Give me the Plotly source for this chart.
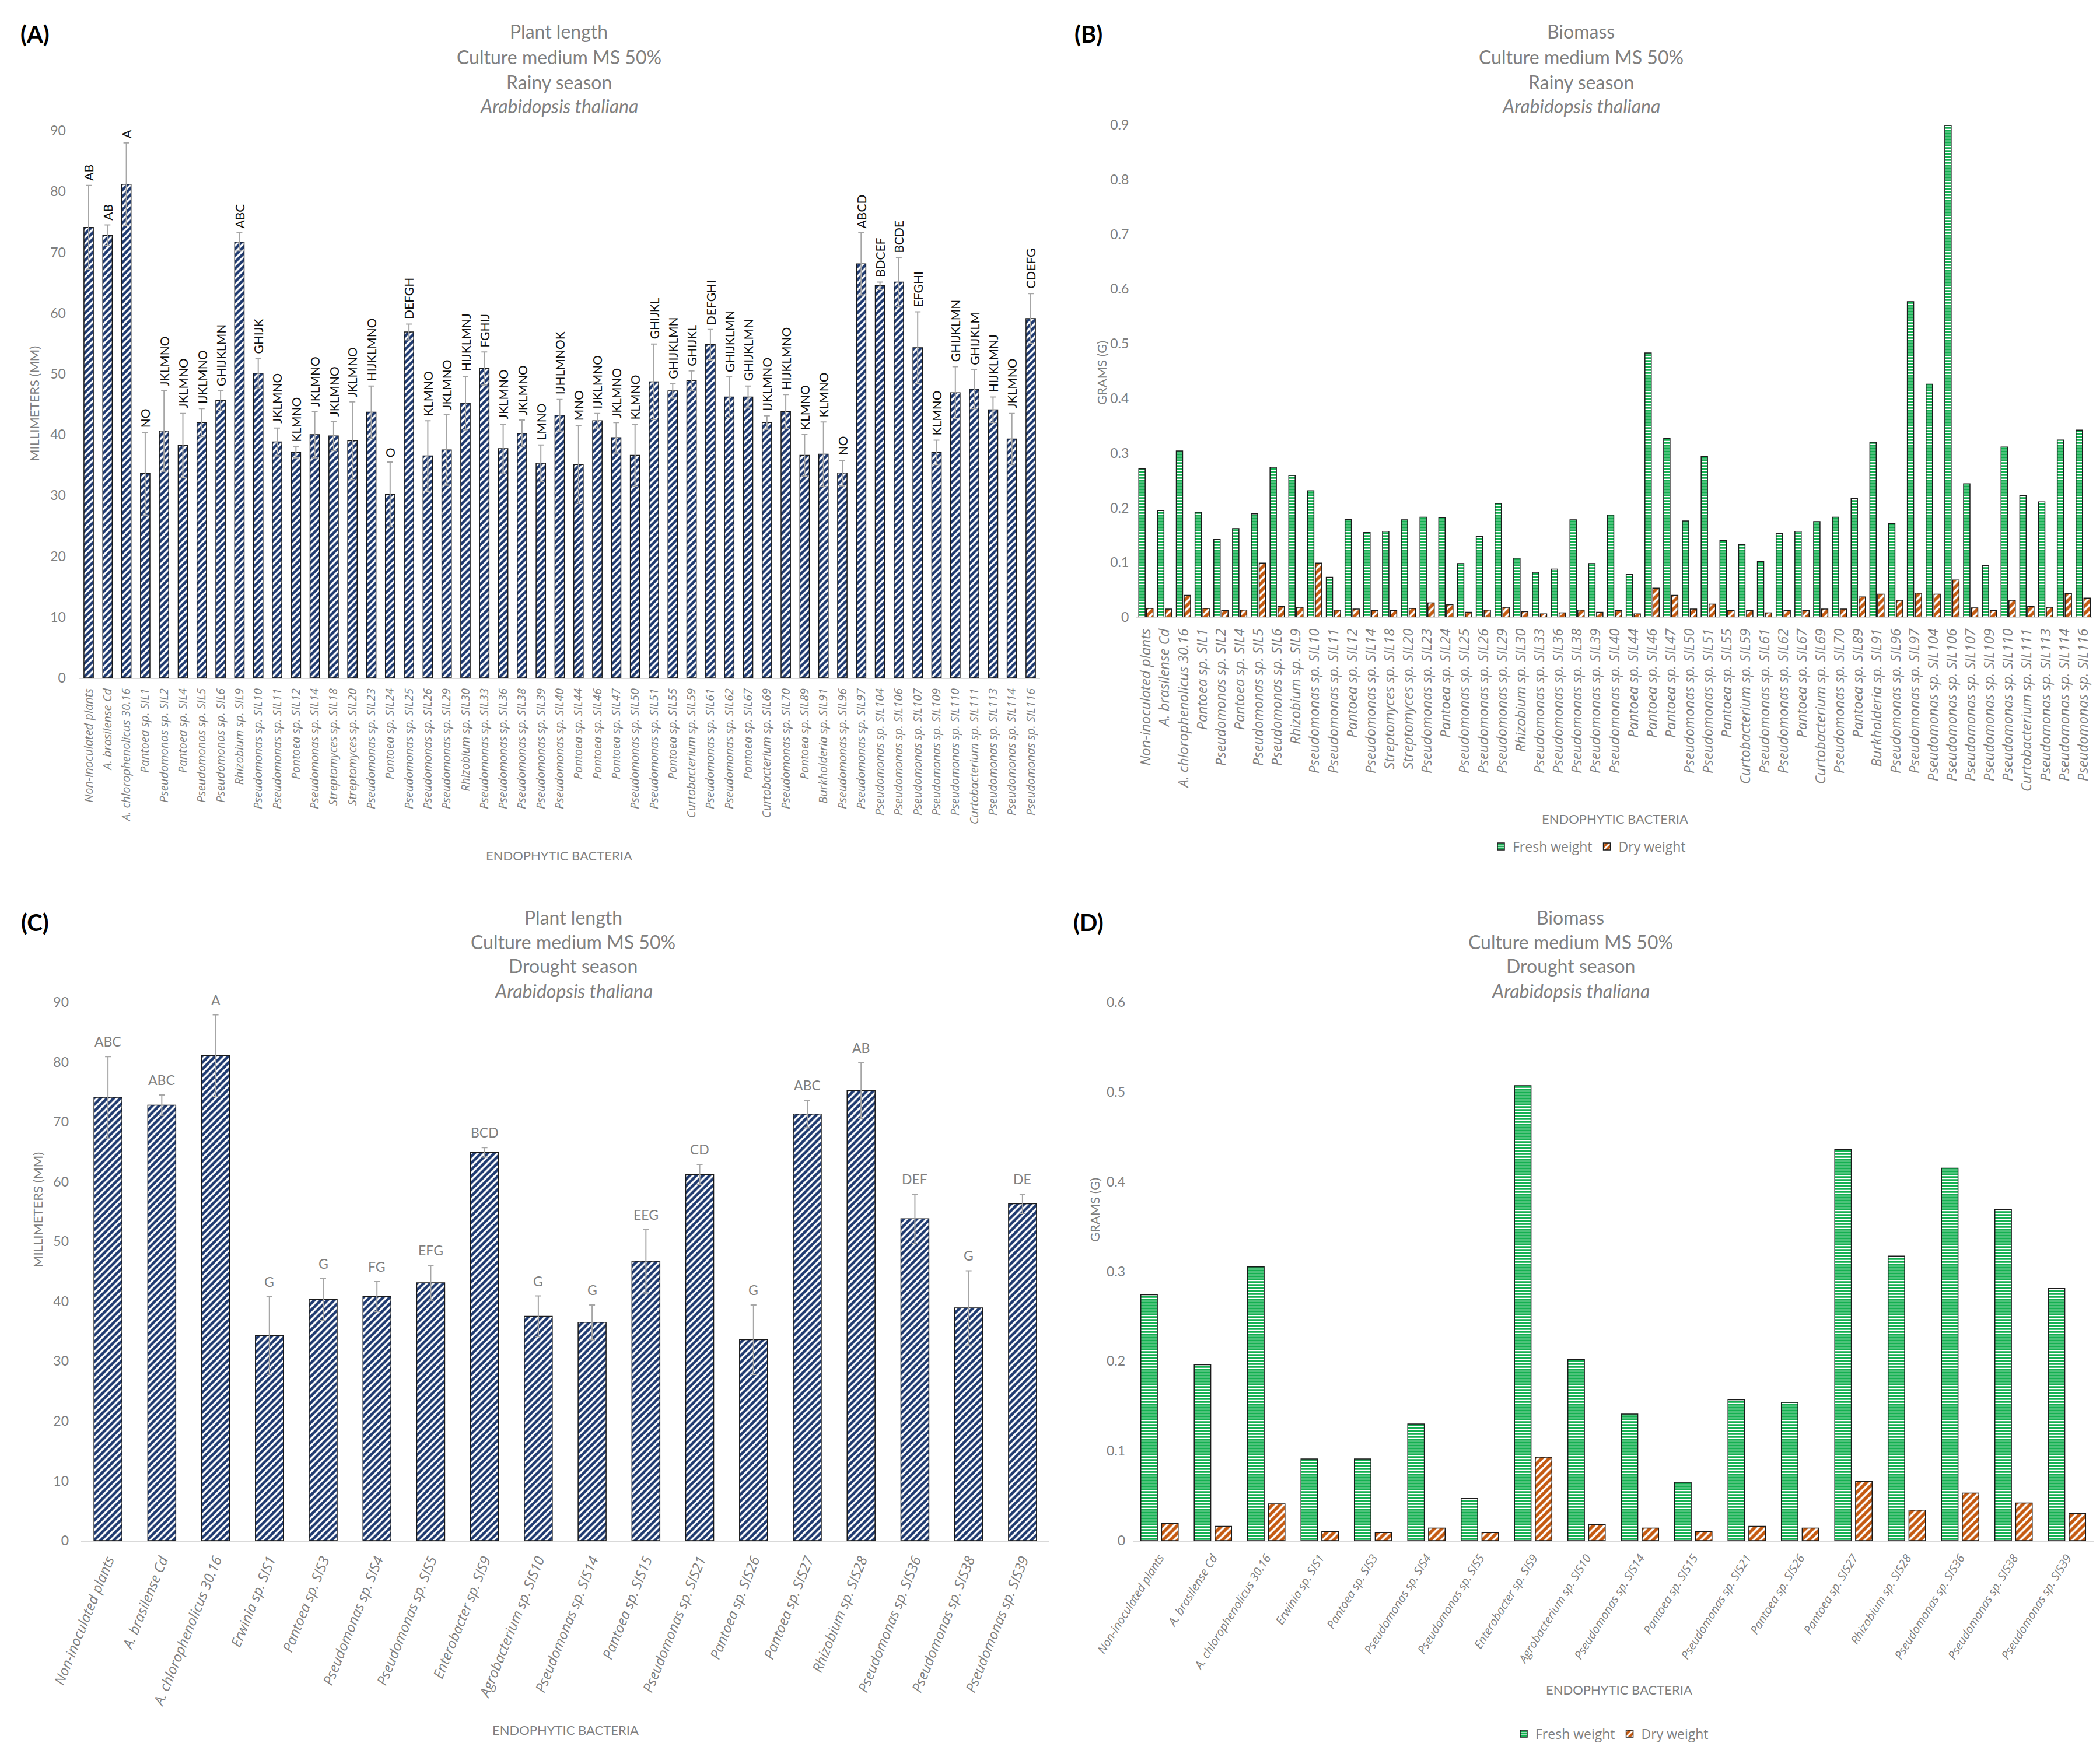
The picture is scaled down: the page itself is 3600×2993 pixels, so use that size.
import plotly.graph_objects as go

W, H = 3600, 2993

# ---------------- data ----------------
cats_rainy = [
    "Non-inoculated plants", "A. brasilense Cd", "A. chlorophenolicus 30.16",
    "Pantoea sp. SIL1", "Pseudomonas sp. SIL2", "Pantoea sp. SIL4", "Pseudomonas sp. SIL5",
    "Pseudomonas sp. SIL6", "Rhizobium sp. SIL9", "Pseudomonas sp. SIL10", "Pseudomonas sp. SIL11",
    "Pantoea sp. SIL12", "Pseudomonas sp. SIL14", "Streptomyces sp. SIL18", "Streptomyces sp. SIL20",
    "Pseudomonas sp. SIL23", "Pantoea sp. SIL24", "Pseudomonas sp. SIL25", "Pseudomonas sp. SIL26",
    "Pseudomonas sp. SIL29", "Rhizobium sp. SIL30", "Pseudomonas sp. SIL33", "Pseudomonas sp. SIL36",
    "Pseudomonas sp. SIL38", "Pseudomonas sp. SIL39", "Pseudomonas sp. SIL40", "Pantoea sp. SIL44",
    "Pantoea sp. SIL46", "Pantoea sp. SIL47", "Pseudomonas sp. SIL50", "Pseudomonas sp. SIL51",
    "Pantoea sp. SIL55", "Curtobacterium sp. SIL59", "Pseudomonas sp. SIL61", "Pseudomonas sp. SIL62",
    "Pantoea sp. SIL67", "Curtobacterium sp. SIL69", "Pseudomonas sp. SIL70", "Pantoea sp. SIL89",
    "Burkholderia sp. SIL91", "Pseudomonas sp. SIL96", "Pseudomonas sp. SIL97", "Pseudomonas sp. SIL104",
    "Pseudomonas sp. SIL106", "Pseudomonas sp. SIL107", "Pseudomonas sp. SIL109", "Pseudomonas sp. SIL110",
    "Curtobacterium sp. SIL111", "Pseudomonas sp. SIL113", "Pseudomonas sp. SIL114", "Pseudomonas sp. SIL116",
]
length_rainy = [74.1, 72.8, 81.2, 33.6, 40.6, 38.2, 42.0, 45.6, 71.7, 50.1, 38.8, 37.1, 40.0,
                39.8, 39.0, 43.7, 30.2, 56.9, 36.5, 37.5, 45.2, 50.9, 37.7, 40.2, 35.3, 43.2,
                35.1, 42.3, 39.5, 36.6, 48.7, 47.2, 48.9, 54.8, 46.2, 46.2, 42.0, 43.8, 36.6,
                36.8, 33.7, 68.1, 64.5, 65.1, 54.3, 37.1, 46.9, 47.5, 44.1, 39.3, 59.1]
sd_rainy = [6.9, 1.7, 6.8, 6.8, 6.6, 5.3, 2.3, 1.6, 1.5, 2.4, 2.3, 0.9, 3.8, 2.4, 6.4, 4.3, 5.3,
            1.3, 5.8, 5.8, 4.4, 2.7, 4.0, 2.2, 3.0, 2.6, 6.4, 1.2, 2.5, 5.1, 6.2, 1.2, 1.6, 2.5,
            3.3, 1.8, 1.1, 2.8, 3.4, 5.3, 2.1, 5.1, 0.6, 4.0, 5.9, 2.0, 4.3, 3.2, 2.1, 4.2, 4.1]
letters_rainy = ["AB", "AB", "A", "NO", "JKLMNO", "JKLMNO", "IJKLMNO", "GHIJKLMN", "ABC", "GHIJK",
                 "JKLMNO", "KLMNO", "JKLMNO", "JKLMNO", "JKLMNO", "HIJKLMNO", "O", "DEFGH", "KLMNO",
                 "JKLMNO", "HIJKLMNJ", "FGHIJ", "JKLMNO", "JKLMNO", "LMNO", "IJHLMNOK", "MNO",
                 "IJKLMNO", "JKLMNO", "KLMNO", "GHIJKL", "GHIJKLMN", "GHIJKL", "DEFGHI", "GHIJKLMN",
                 "GHIJKLMN", "IJKLMNO", "HIJKLMNO", "KLMNO", "KLMNO", "NO", "ABCD", "BDCEF", "BCDE",
                 "EFGHI", "KLMNO", "GHIJKLMN", "GHIJKLM", "HIJKLMNJ", "JKLMNO", "CDEFG"]
fresh_rainy = [0.271, 0.195, 0.304, 0.192, 0.142, 0.162, 0.189, 0.274, 0.259, 0.231, 0.073, 0.179,
               0.155, 0.157, 0.178, 0.183, 0.182, 0.098, 0.148, 0.208, 0.108, 0.082, 0.088, 0.178,
               0.098, 0.187, 0.078, 0.483, 0.327, 0.176, 0.294, 0.140, 0.133, 0.102, 0.153, 0.157,
               0.175, 0.183, 0.217, 0.320, 0.171, 0.577, 0.426, 0.899, 0.244, 0.094, 0.311, 0.222,
               0.211, 0.324, 0.342]
dry_rainy = [0.016, 0.015, 0.040, 0.016, 0.012, 0.013, 0.099, 0.020, 0.018, 0.099, 0.013, 0.015,
             0.012, 0.012, 0.016, 0.026, 0.023, 0.009, 0.013, 0.018, 0.010, 0.006, 0.008, 0.013,
             0.009, 0.012, 0.006, 0.053, 0.040, 0.015, 0.024, 0.012, 0.012, 0.008, 0.012, 0.012,
             0.015, 0.015, 0.037, 0.042, 0.031, 0.044, 0.042, 0.068, 0.017, 0.012, 0.031, 0.020,
             0.018, 0.043, 0.035]

cats_drought = [
    "Non-inoculated plants", "A. brasilense Cd", "A. chlorophenolicus 30.16", "Erwinia sp. SIS1",
    "Pantoea sp. SIS3", "Pseudomonas sp. SIS4", "Pseudomonas sp. SIS5", "Enterobacter sp. SIS9",
    "Agrobacterium sp. SIS10", "Pseudomonas sp. SIS14", "Pantoea sp. SIS15", "Pseudomonas sp. SIS21",
    "Pantoea sp. SIS26", "Pantoea sp. SIS27", "Rhizobium sp. SIS28", "Pseudomonas sp. SIS36",
    "Pseudomonas sp. SIS38", "Pseudomonas sp. SIS39",
]
length_drought = [74.1, 72.8, 81.1, 34.3, 40.3, 40.8, 43.1, 64.9, 37.5, 36.5, 46.7, 61.2, 33.6,
                  71.3, 75.2, 53.8, 38.9, 56.3]
sd_drought = [6.8, 1.7, 6.8, 6.5, 3.5, 2.5, 2.9, 0.8, 3.4, 2.9, 5.3, 1.7, 5.8, 2.3, 4.7, 4.1, 6.2, 1.6]
letters_drought = ["ABC", "ABC", "A", "G", "G", "FG", "EFG", "BCD", "G", "G", "EEG", "CD", "G",
                   "ABC", "AB", "DEF", "G", "DE"]
fresh_drought = [0.274, 0.196, 0.305, 0.091, 0.091, 0.130, 0.047, 0.507, 0.202, 0.141, 0.065,
                 0.157, 0.154, 0.436, 0.317, 0.415, 0.369, 0.281]
dry_drought = [0.019, 0.016, 0.041, 0.010, 0.009, 0.014, 0.009, 0.093, 0.018, 0.014, 0.010,
               0.016, 0.014, 0.066, 0.034, 0.053, 0.042, 0.030]

# ---------------- style ----------------
NAVY = "#1f3a70"
GREEN = "#12b050"
ORANGE = "#c55a11"
GRAY = "#7f7f7f"
ERR = "#a6a6a6"
FT = "Lato"
FL = "Open Sans"


def px_x(p):
    return p / W


def px_y(p):
    return 1 - p / H


fig = go.Figure()

navy_marker = dict(color=NAVY, line=dict(color="#1a1a1a", width=1.5),
                   pattern=dict(shape="/", bgcolor=NAVY, fgcolor="white", fillmode="replace",
                                size=8, solidity=0.42))
fresh_marker = dict(color=GREEN, line=dict(color="#1a1a1a", width=1.5),
                    pattern=dict(shape="-", bgcolor=GREEN, fgcolor="white", fillmode="replace",
                                 size=5, solidity=0.3))
dry_marker = dict(color=ORANGE, line=dict(color="#1a1a1a", width=1.5),
                  pattern=dict(shape="/", bgcolor=ORANGE, fgcolor="white", fillmode="replace",
                               size=9, solidity=0.4))

# A
fig.add_trace(go.Bar(x=cats_rainy, y=length_rainy, width=0.5, marker=navy_marker,
                     error_y=dict(type="data", array=sd_rainy, color=ERR, thickness=2, width=5),
                     xaxis="x", yaxis="y", showlegend=False))
# B
fig.add_trace(go.Bar(x=cats_rainy, y=fresh_rainy, width=0.34, offset=-0.38, marker=fresh_marker,
                     name="Fresh weight", xaxis="x2", yaxis="y2", legend="legend"))
fig.add_trace(go.Bar(x=cats_rainy, y=dry_rainy, width=0.34, offset=0.04, marker=dry_marker,
                     name="Dry weight", xaxis="x2", yaxis="y2", legend="legend"))
# C
fig.add_trace(go.Bar(x=cats_drought, y=length_drought, width=0.52, marker=navy_marker,
                     error_y=dict(type="data", array=sd_drought, color=ERR, thickness=2, width=5),
                     xaxis="x3", yaxis="y3", showlegend=False))
# D
fig.add_trace(go.Bar(x=cats_drought, y=fresh_drought, width=0.31, offset=-0.35, marker=fresh_marker,
                     name="Fresh weight", xaxis="x4", yaxis="y4", legend="legend2"))
fig.add_trace(go.Bar(x=cats_drought, y=dry_drought, width=0.31, offset=0.04, marker=dry_marker,
                     name="Dry weight", xaxis="x4", yaxis="y4", legend="legend2"))

annotations = []
# significance letters
for c, v, s, t in zip(cats_rainy, length_rainy, sd_rainy, letters_rainy):
    annotations.append(dict(x=c, y=v + s, xref="x", yref="y", text=t, textangle=-90,
                            showarrow=False, yanchor="bottom", xanchor="center", yshift=6,
                            font=dict(family=FT, size=21, color="#111111")))
for c, v, s, t in zip(cats_drought, length_drought, sd_drought, letters_drought):
    annotations.append(dict(x=c, y=v + s, xref="x3", yref="y3", text=t,
                            showarrow=False, yanchor="bottom", xanchor="center", yshift=10,
                            font=dict(family=FT, size=23, color=GRAY)))


def title_block(cx, ys, first, season):
    lines = [first, "Culture medium MS 50%", season, "<i>Arabidopsis thaliana</i>"]
    for ln, yy in zip(lines, ys):
        annotations.append(dict(x=px_x(cx), y=px_y(yy), xref="paper", yref="paper", text=ln,
                                showarrow=False, xanchor="center", yanchor="middle",
                                font=dict(family=FT, size=32, color=GRAY)))


title_block(950, [46, 90, 132, 174], "Plant length", "Rainy season")
title_block(2702, [46, 90, 132, 174], "Biomass", "Rainy season")
title_block(975, [1564, 1606, 1648, 1690], "Plant length", "Drought season")
title_block(2684, [1564, 1606, 1648, 1690], "Biomass", "Drought season")

for lab, (xx, yy) in {"(A)": (52, 50), "(B)": (1858, 50), "(C)": (52, 1573), "(D)": (1858, 1573)}.items():
    annotations.append(dict(x=px_x(xx), y=px_y(yy), xref="paper", yref="paper", text=f"<b>{lab}</b>",
                            showarrow=False, xanchor="center", yanchor="middle",
                            font=dict(family=FT, size=40, color="black")))

# axis titles
for txt, (xx, yy), ang in [
    ("MILLIMETERS (MM)", (50, 684), -90),
    ("GRAMS (G)", (1880, 631), -90),
    ("MILLIMETERS (MM)", (56, 2066), -90),
    ("GRAMS (G)", (1868, 2066), -90),
    ("ENDOPHYTIC BACTERIA", (950, 1458), 0),
    ("ENDOPHYTIC BACTERIA", (2760, 1395), 0),
    ("ENDOPHYTIC BACTERIA", (961, 2957), 0),
    ("ENDOPHYTIC BACTERIA", (2767, 2888), 0),
]:
    annotations.append(dict(x=px_x(xx), y=px_y(yy), xref="paper", yref="paper", text=txt,
                            textangle=ang, showarrow=False, xanchor="center", yanchor="middle",
                            font=dict(family=FT, size=22, color=GRAY)))


def xax(dom, n, angle, fs, anchor):
    return dict(domain=dom, type="category", range=[-0.5, n - 0.5], showline=True,
                linecolor="#d9d9d9", linewidth=2, showgrid=False, zeroline=False, ticks="",
                tickangle=angle, automargin=False, ticklabelstandoff=8, anchor=anchor,
                tickfont=dict(family=FL, size=fs, color=GRAY, style="italic"))


def yax(dom, rng, dt, anchor, standoff):
    return dict(domain=dom, range=rng, dtick=dt, tick0=0, showline=False, showgrid=False,
                zeroline=False, ticks="", automargin=False, anchor=anchor,
                ticklabelstandoff=standoff, tickfont=dict(family=FT, size=23, color=GRAY))


fig.update_layout(
    width=W, height=H, autosize=False, template="none",
    paper_bgcolor="white", plot_bgcolor="white",
    margin=dict(l=0, r=0, t=0, b=0),
    barmode="group",
    xaxis=xax([px_x(127.85), px_x(1775.15)], len(cats_rainy), -90, 20, "y"),
    yaxis=yax([px_y(1154), px_y(216)], [0, 90], 10, "x", 22),
    xaxis2=xax([px_x(1940.4), px_x(3579.1)], len(cats_rainy), -90, 24, "y2"),
    yaxis2=yax([px_y(1050), px_y(206)], [0, 0.9], 0.1, "x2", 12),
    xaxis3=xax([px_x(131), px_x(1791)], len(cats_drought), -68, 24, "y3"),
    yaxis3=yax([px_y(2633), px_y(1710)], [0, 90], 10, "x3", 20),
    xaxis4=xax([px_x(1934), px_x(3581)], len(cats_drought), -58, 20, "y4"),
    yaxis4=yax([px_y(2633), px_y(1710)], [0, 0.6], 0.1, "x4", 12),
    legend=dict(orientation="h", x=px_x(2716), y=px_y(1443), xanchor="center", yanchor="middle",
                font=dict(family=FL, size=23, color=GRAY), bgcolor="rgba(0,0,0,0)",
                itemwidth=30),
    legend2=dict(orientation="h", x=px_x(2755), y=px_y(2964), xanchor="center", yanchor="middle",
                 font=dict(family=FL, size=23, color=GRAY), bgcolor="rgba(0,0,0,0)",
                 itemwidth=30),
    annotations=annotations,
)

fig.write_html("out.html")
